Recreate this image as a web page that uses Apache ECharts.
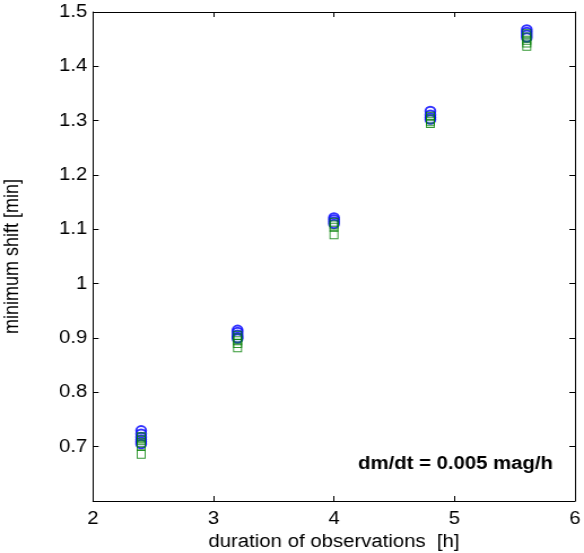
<!DOCTYPE html>
<html><head><meta charset="utf-8">
<script src="https://cdn.jsdelivr.net/npm/echarts@6/dist/echarts.min.js"></script>
<style>html,body{margin:0;padding:0;background:#fff;overflow:hidden}
#wrap{width:584px;height:553px;overflow:hidden}
#c{width:517px;height:553px;transform:scaleX(1.1296);transform-origin:0 0}</style>
</head><body><div id="wrap"><div id="c"></div></div>
<script>
const durations = [2.4, 3.2, 4.0, 4.8, 5.6];
const circleVals = [
  [0.730, 0.724, 0.718, 0.713, 0.709, 0.705],
  [0.915, 0.911, 0.906, 0.902, 0.899],
  [1.122, 1.118, 1.114, 1.110],
  [1.318, 1.311, 1.306, 1.302],
  [1.468, 1.463, 1.458, 1.453]
];
const squareVals = [
  [0.718, 0.712, 0.707, 0.701, 0.686],
  [0.905, 0.900, 0.895, 0.890, 0.882],
  [1.113, 1.108, 1.104, 1.090],
  [1.308, 1.303, 1.299, 1.295],
  [1.460, 1.454, 1.448, 1.443, 1.437]
];
const xTicks = [2, 3, 4, 5, 6];
const yTicks = [0.7, 0.8, 0.9, 1.0, 1.1, 1.2, 1.3, 1.4, 1.5];
const annotation = 'dm/dt = 0.005 mag/h';

function pts(vals){
  const out = [];
  vals.forEach((arr, i) => arr.forEach(v => out.push([durations[i], v])));
  return out;
}
const font = 'Liberation Sans, Arial, Helvetica, sans-serif';
const axisCommon = {
  axisLine: {show: true, lineStyle: {color: '#000', width: 1}},
  axisTick: {show: true, inside: true, length: 5, lineStyle: {color: '#000'}},
  splitLine: {show: false}
};
const chart = echarts.init(document.getElementById('c'));
chart.setOption({
  animation: false,
  backgroundColor: '#fff',
  grid: {left: 82.3, right: 8, top: 12, bottom: 52, containLabel: false, outerBoundsMode: 'none'},
  xAxis: [
    Object.assign({type: 'value', min: 2, max: 6, interval: 1, position: 'bottom',
      name: 'duration of observations  [h]', nameLocation: 'middle', nameGap: 32,
      nameTextStyle: {fontFamily: font, fontSize: 18, color: '#000'},
      axisLabel: {fontFamily: font, fontSize: 18, color: '#000', margin: 9,
        formatter: v => xTicks.includes(v) ? String(v) : ''}}, axisCommon),
    Object.assign({type: 'value', min: 2, max: 6, interval: 1, position: 'top',
      axisLabel: {show: false}}, axisCommon)
  ],
  yAxis: [
    Object.assign({type: 'value', min: 0.6, max: 1.5, interval: 0.1, position: 'left',
      name: 'minimum shift [min]', nameLocation: 'middle', nameGap: 62, nameRotate: 90,
      nameTextStyle: {fontFamily: font, fontSize: 18, color: '#000'},
      axisLabel: {fontFamily: font, fontSize: 18, color: '#000', margin: 5,
        formatter: v => {
          const r = Math.round(v * 10) / 10;
          return yTicks.some(t => Math.abs(t - r) < 1e-9) && Math.abs(v - r) < 1e-6 ? String(r) : '';
        }}}, axisCommon),
    Object.assign({type: 'value', min: 0.6, max: 1.5, interval: 0.1, position: 'right',
      axisLabel: {show: false}}, axisCommon)
  ],
  series: [
    {type: 'scatter', data: pts(circleVals), symbol: 'emptyCircle', symbolSize: [8.5, 8.5],
      itemStyle: {color: '#0000ff', borderColor: '#0000ff', borderWidth: 1}, z: 2},
    {type: 'scatter', data: pts(squareVals), symbol: 'rect', symbolSize: [7, 8],
      itemStyle: {color: 'rgba(0,0,0,0)', borderColor: '#008000', borderWidth: 1}, z: 3}
  ],
  graphic: [{type: 'text', left: 317, top: 455,
    style: {text: annotation, fontFamily: font, fontSize: 18, fontWeight: 'bold', fill: '#000'}}]
});
</script></body></html>
